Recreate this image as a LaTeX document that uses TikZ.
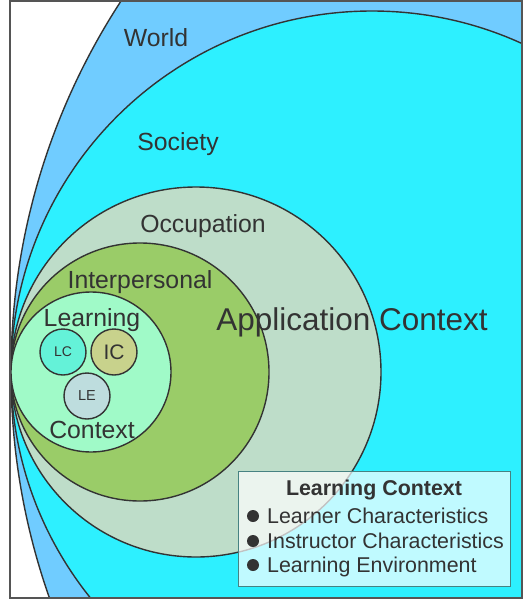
\documentclass[tikz,border=0pt]{standalone}
\usepackage{fontspec}
\setmainfont{Liberation Sans}
\definecolor{worldc}{RGB}{112,204,255}
\definecolor{societyc}{RGB}{45,240,255}
\definecolor{occc}{RGB}{190,221,201}
\definecolor{interc}{RGB}{154,204,104}
\definecolor{learnc}{RGB}{160,250,200}
\definecolor{lcc}{RGB}{100,242,216}
\definecolor{icc}{RGB}{200,210,140}
\definecolor{lec}{RGB}{190,221,222}
\definecolor{linec}{RGB}{51,51,51}
\definecolor{txtc}{RGB}{51,51,51}
\definecolor{framec}{RGB}{85,85,85}
\definecolor{legb}{RGB}{70,130,130}
\begin{document}
\begin{tikzpicture}[x=1pt,y=-1pt,
  ring/.style={circle, draw=linec, line width=1.4pt, inner sep=0pt, outer sep=0pt},
  lbl/.style={text=txtc, font=\fontsize{24.8}{28}\selectfont, anchor=base, inner sep=0pt},
  small/.style={ring, minimum size=46pt, text=txtc},
  legtxt/.style={text=txtc, font=\fontsize{21.4}{25}\selectfont, anchor=base west, inner sep=0pt},
  bullet/.style={circle, fill=txtc, minimum size=12pt, inner sep=0pt}]
\useasboundingbox (0,0) rectangle (524,600);
\fill[white] (10,1) rectangle (522,598);
\begin{scope}
  \clip (10,1) rectangle (522,598);
  \node[ring, fill=worldc, minimum size=1360pt] (world) at (691,372) {};
  \node[ring, fill=societyc, minimum size=722pt] (society) at (372,372) {};
  \node[ring, fill=occc, minimum size=370pt] (occ) at (196,372) {};
  \node[ring, fill=interc, minimum size=258pt] (inter) at (140,372) {};
  \node[ring, fill=learnc, minimum size=160pt] (learn) at (91,372) {};
\end{scope}
\draw[framec, line width=1.5pt] (10,1) rectangle (522,598);
\node[small, fill=lcc, font=\fontsize{14}{16}\selectfont] (lc) at (63,352) {LC};
\node[small, fill=icc, font=\fontsize{21}{24}\selectfont] (ic) at (114,352) {IC};
\node[small, fill=lec, font=\fontsize{14.5}{16}\selectfont] (le) at (87,396) {LE};
\node[lbl] (tworld) at (156,46) {World};
\node[lbl] (tsoc) at (178,150) {Society};
\node[lbl] (tocc) at (203,232) {Occupation};
\node[lbl] (tint) at (140,288) {Interpersonal};
\node[lbl, font=\fontsize{31.5}{34}\selectfont] (tapp) at (352,330) {Application Context};
\node[lbl] (tlearn) at (92,326) {Learning};
\node[lbl] (tctx) at (92,438) {Context};
\node[draw=legb, line width=1.3pt, fill=white, fill opacity=0.7, minimum width=272pt, minimum height=115pt, anchor=north west, inner sep=0pt] (legend) at (238,471) {};
\node[text=txtc, font=\bfseries\fontsize{21.4}{25}\selectfont, anchor=base, inner sep=0pt] (ltitle) at (374,495) {Learning Context};
\node[bullet] (b1) at (253,516) {};
\node[bullet] (b2) at (253,541) {};
\node[bullet] (b3) at (253,565) {};
\node[legtxt] (l1) at (267,523) {Learner Characteristics};
\node[legtxt] (l2) at (267,548) {Instructor Characteristics};
\node[legtxt] (l3) at (267,572) {Learning Environment};
\end{tikzpicture}
\end{document}
